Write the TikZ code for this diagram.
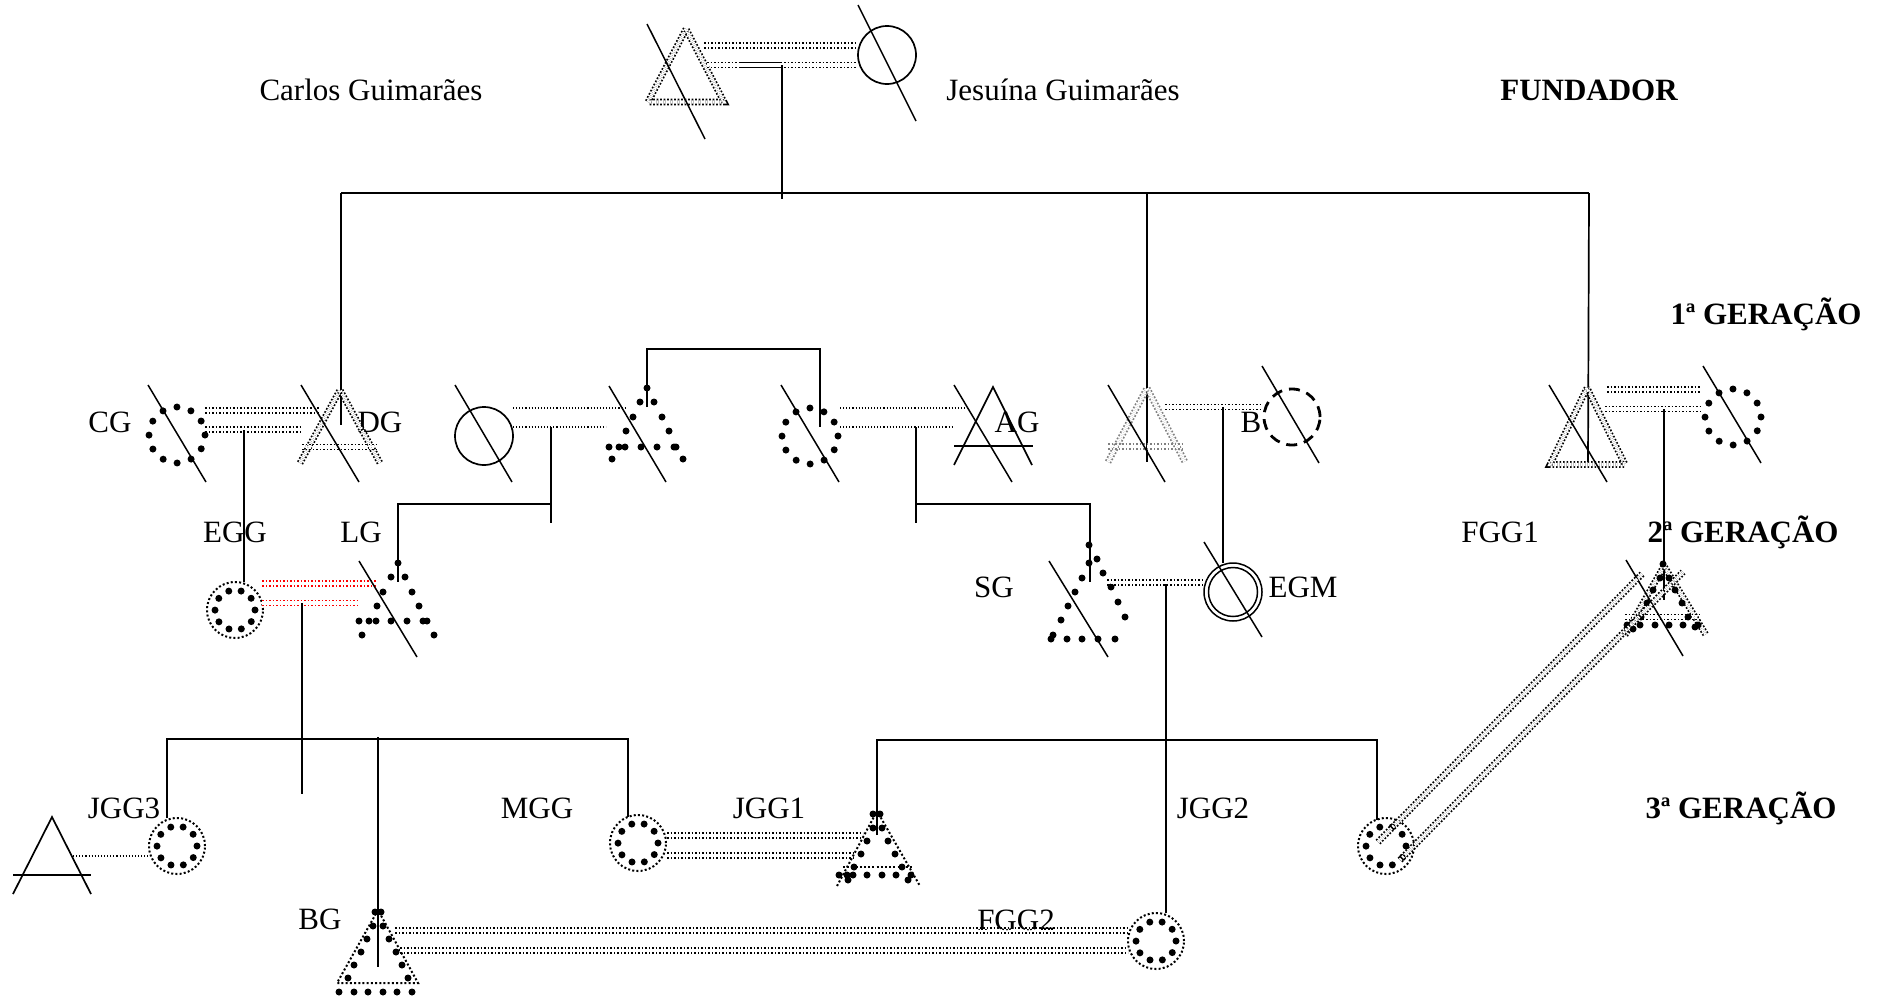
\documentclass[tikz,border=0pt]{standalone}
\usepackage{fontspec}
\setmainfont{Liberation Serif}
\begin{document}
\begin{tikzpicture}[x=1pt,y=-1pt,
  sl/.style={line width=1.5pt},
  ln/.style={line width=1.7pt},
  ddot/.style={line width=1.7pt, double=white, double distance=3.3pt, dash pattern=on 1.7pt off 1.8pt},
  sdot/.style={line width=1.1pt, dash pattern=on 1.1pt off 2pt},
  odot/.style={line width=2pt, dash pattern=on 2pt off 2.2pt},
  bigdots/.style={line width=7pt, line cap=round, dash pattern=on 0pt off #1},
  lab/.style={font=\fontsize{31}{31}\selectfont, inner sep=0pt, anchor=base},
  blab/.style={font=\fontsize{31}{31}\selectfont\bfseries, inner sep=0pt, anchor=base}
]
\useasboundingbox (0,0) rectangle (1878,1001);
\fill[white] (0,0) rectangle (1878,1001);

% ---------- labels ----------
\node[lab]  (tcarlos) at (371,100) {Carlos Guimarães};
\node[lab]  (tjes)    at (1063,100) {Jesuína Guimarães};
\node[blab] (tfund)   at (1589,100) {FUNDADOR};
\node[blab] (tg1)     at (1766,324) {1ª GERAÇÃO};
\node[lab]  (tcg)     at (110,432) {CG};
\node[lab]  (tdg)     at (380,432) {DG};
\node[lab]  (tag)     at (1017,432) {AG};
\node[lab]  (tb)      at (1251,432) {B};
\node[lab]  (tegg)    at (235,542) {EGG};
\node[lab]  (tlg)     at (361,542) {LG};
\node[lab]  (tfgg1)   at (1500,542) {FGG1};
\node[blab] (tg2)     at (1743,542) {2ª GERAÇÃO};
\node[lab]  (tsg)     at (994,597) {SG};
\node[lab]  (tegm)    at (1303,597) {EGM};
\node[lab]  (tjgg3)   at (124,818) {JGG3};
\node[lab]  (tmgg)    at (537,818) {MGG};
\node[lab]  (tjgg1)   at (769,818) {JGG1};
\node[lab]  (tjgg2)   at (1213,818) {JGG2};
\node[blab] (tg3)     at (1741,818) {3ª GERAÇÃO};
\node[lab]  (tbg)     at (320,929) {BG};
\node[lab]  (tfgg2)   at (1016,930) {FGG2};

% ---------- coordinates ----------
\coordinate (f0) at (782,65);
\coordinate (f0b) at (782,193);
\coordinate (hl) at (341,193);
\coordinate (hr) at (1589,193);
\coordinate (dgtop) at (341,425);
\coordinate (b1top) at (1147,462);
\coordinate (fgtop) at (1588,462);

% ---------- founders ----------
\draw[ddot] (686,29) -- (648,102) -- (724,102) -- cycle;
\draw[sl] (647,24) -- (705,139);
\draw[ln] (887,55) circle (29pt);
\draw[sl] (858,5) -- (916,121);
\draw[ddot] (704,45.5) -- (857,45.5);
\draw[ddot] (707,65) -- (857,65);
\draw[line width=1pt] (740,62.5) -- (782,62.5) (740,67.5) -- (782,67.5);
\draw[ln] (f0) -- (782,199);
\draw[ln] (hl) -- (hr);
\draw[ln] (hl) -- (dgtop);
\draw[line width=2.6pt] (341,293) -- (341,323);
\draw[ln] (1147,193) -- (b1top);
\draw[ln] (hr |- f0b) -- (fgtop);

% ---------- 1st generation ----------
% CG
\draw[bigdots=14.66pt] (177,435) circle (28pt);
\draw[sl] (148,385) -- (206,482);
\draw[ddot] (205,410.5) -- (320,410.5);
\draw[ddot] (205,429.5) -- (300,429.5);
\coordinate (cgm) at (244,430);
\coordinate (eggtop) at (244,582);
\draw[ln] (cgm) -- (eggtop);
% DG
\draw[ddot] (300,463) -- (340,390) -- (380,463);
\draw[ddot] (302,447) -- (377,447);
\draw[sl] (301,385) -- (359,482);

% plain woman left
\draw[ln] (484,436) circle (29pt);
\draw[sl] (455,385) -- (512,482);
\draw[sdot] (513,408) -- (626,408);
\draw[sdot] (513,427) -- (606,427);
\coordinate (m2) at (551,427);
\coordinate (m2b) at (551,504);
\coordinate (lgtop) at (398,582);
\draw[ln] (m2) -- (551,523);
\draw[ln] (m2b) -- (398,504) -- (lgtop);
% dotted man
\foreach \p in {(647,388),(640,402),(654,402),(633,417),(662,417),(626,431),(669,431),(609,447),(619,447),(625,447),(641,447),(657,447),(674,447),(676,447),(612,459),(683,459)}
  \fill \p circle (3.5pt);
\draw[sl] (609,386) -- (666,482);
\draw[ln] (647,407) -- (647,349) -- (820,349) -- (820,427);
% dotted woman
\draw[bigdots=14.66pt] (810,436) circle (28pt);
\draw[sl] (781,385) -- (839,482);
\draw[sdot] (840,408) -- (970,408);
\draw[sdot] (840,427) -- (953,427);
\coordinate (m3) at (916,427);
\coordinate (sgtop) at (1090,582);
\draw[ln] (m3) -- (916,523);
\draw[ln] (916,504) -- (1090,504) -- (sgtop);
% AG
\draw[ln] (954,465) -- (993,387) -- (1032,465);
\draw[ln] (954,446) -- (1033,446);
\draw[sl] (954,385) -- (1012,482);
% man with B
\draw[ddot, gray] (1108,462) -- (1147,388) -- (1185,462);
\draw[ddot, gray] (1108,446.5) -- (1182,446.5);
\draw[sl] (1108,385) -- (1165,482);
\draw[ddot] (1165,407) -- (1262,407);
\coordinate (m4) at (1223,407);
\coordinate (egmtop) at (1223,563);
\draw[ln] (m4) -- (egmtop);
% B
\draw[line width=2.8pt, dash pattern=on 11pt off 7pt] (1292,417) circle (28pt);
\draw[sl] (1262,366) -- (1319,463);
% right couple
\draw[ddot] (1587,388) -- (1550,464.5) -- (1625,464.5) -- cycle;
\draw[sl] (1549,385) -- (1607,482);
\draw[ddot] (1607,389.5) -- (1700,389.5);
\draw[ddot] (1605,409) -- (1700,409);
\coordinate (m5) at (1664,409);
\coordinate (fgg1p) at (1664,600);
\draw[ln] (m5) -- (fgg1p);
\draw[bigdots=14.66pt] (1733,417) circle (28pt);
\draw[sl] (1703,366) -- (1761,463);

% ---------- 2nd generation ----------
% EGG
\draw[odot] (235,610) circle (28pt);
\draw[bigdots=12.57pt] (235,610) circle (20pt);
\draw[ddot, red] (262,583.5) -- (377,583.5);
\draw[ddot, red] (262,603) -- (357,603);
\coordinate (m6) at (302,603);
\draw[ln] (m6) -- (302,794);
% LG
\foreach \p in {(398,563),(391,577),(405,577),(383,592),(412,592),(377,606),(419,606),(359,621),(369,621),(376,621),(391,621),(407,621),(423,621),(427,621),(362,635),(434,635)}
  \fill \p circle (3.5pt);
\draw[sl] (359,561) -- (417,657);
% SG
\foreach \p in {(1089,545),(1089,563),(1097,559),(1082,578),(1103,573),(1075,592),(1111,587),(1068,606),(1118,602),(1061,620),(1125,617),(1051,639),(1053,635),(1067,639),(1082,639),(1098,639),(1115,639)}
  \fill \p circle (3.5pt);
\draw[sl] (1049,561) -- (1108,657);
\draw[ddot] (1107,582.5) -- (1203,582.5);
\coordinate (m7) at (1166,584);
\coordinate (jgg2top) at (1166,913);
\draw[ln] (m7) -- (jgg2top);
% EGM
\draw[sl] (1233,592) circle (29pt);
\draw[sl] (1233,592) circle (24.5pt);
\draw[sl] (1204,542) -- (1262,637);
% FGG1 partner (dotted man)
\draw[ddot] (1625,635) -- (1664,566) -- (1706,635);
\draw[ddot] (1625,617) -- (1700,617);
\foreach \p in {(1663,564),(1660,578),(1669,578),(1653,590),(1675,590),(1647,603),(1682,603),(1641,617),(1688,617),(1627,625),(1633,629),(1640,625),(1655,625),(1669,625),(1683,625),(1695,627),(1698,625)}
  \fill \p circle (3.5pt);
\draw[sl] (1626,560) -- (1683,656);

% ---------- 3rd generation ----------
\coordinate (g3l) at (167,739);
\coordinate (g3r) at (628,739);
\draw[ln] (167,818) -- (g3l) -- (g3r) -- (628,817);
\draw[ln] (378,737) -- (378,967);
% plain man left
\draw[ln] (13,894) -- (52,817) -- (91,894);
\draw[ln] (13,875) -- (91,875);
\draw[sdot] (73,856) -- (148,856);
% JGG3
\draw[odot] (177,846) circle (28pt);
\draw[bigdots=12.57pt] (177,846) circle (20pt);
% MGG
\draw[odot] (638,843) circle (28pt);
\draw[bigdots=12.57pt] (638,843) circle (20pt);
\draw[ddot] (667,835.5) -- (863,835.5);
\draw[ddot] (667,855.5) -- (853,855.5);
% JGG1
\draw[odot] (837,886) -- (877,811) -- (920,886);
\draw[odot] (843,867) -- (913,867);
\foreach \p in {(873,814),(880,814),(873,828),(882,828),(867,841),(888,841),(861,854),(895,854),(854,867),(902,867),(839,875),(847,875),(853,875),(867,875),(882,875),(896,875),(911,875),(848,880),(908,880)}
  \fill \p circle (3.5pt);
\coordinate (g3b) at (877,740);
\coordinate (g3c) at (1377,740);
\draw[ln] (877,835) -- (g3b) -- (g3c) -- (1377,820);
% FGG2
\draw[odot] (1156,941) circle (28pt);
\draw[bigdots=12.57pt] (1156,941) circle (20pt);
% BG
\draw[odot] (378,910) -- (337,983) -- (418,983) -- cycle;
\foreach \p in {(375,912),(381,912),(373,926),(383,926),(367,939),(389,939),(361,952),(396,952),(354,965),(402,965),(348,978),(408,978),(339,992),(354,992),(368,992),(383,992),(397,992),(412,992)}
  \fill \p circle (3.5pt);
\draw[ddot] (395,930.5) -- (1127,930.5);
\draw[ddot] (400,950.5) -- (1128,950.5);
% circle right
\draw[odot] (1386,846) circle (28pt);
\draw[bigdots=12.57pt] (1386,846) circle (20pt);
\draw[ddot] (1378,842) -- (1643,573);
\draw[ddot] (1400,860) -- (1683,572);
\end{tikzpicture}
\end{document}
